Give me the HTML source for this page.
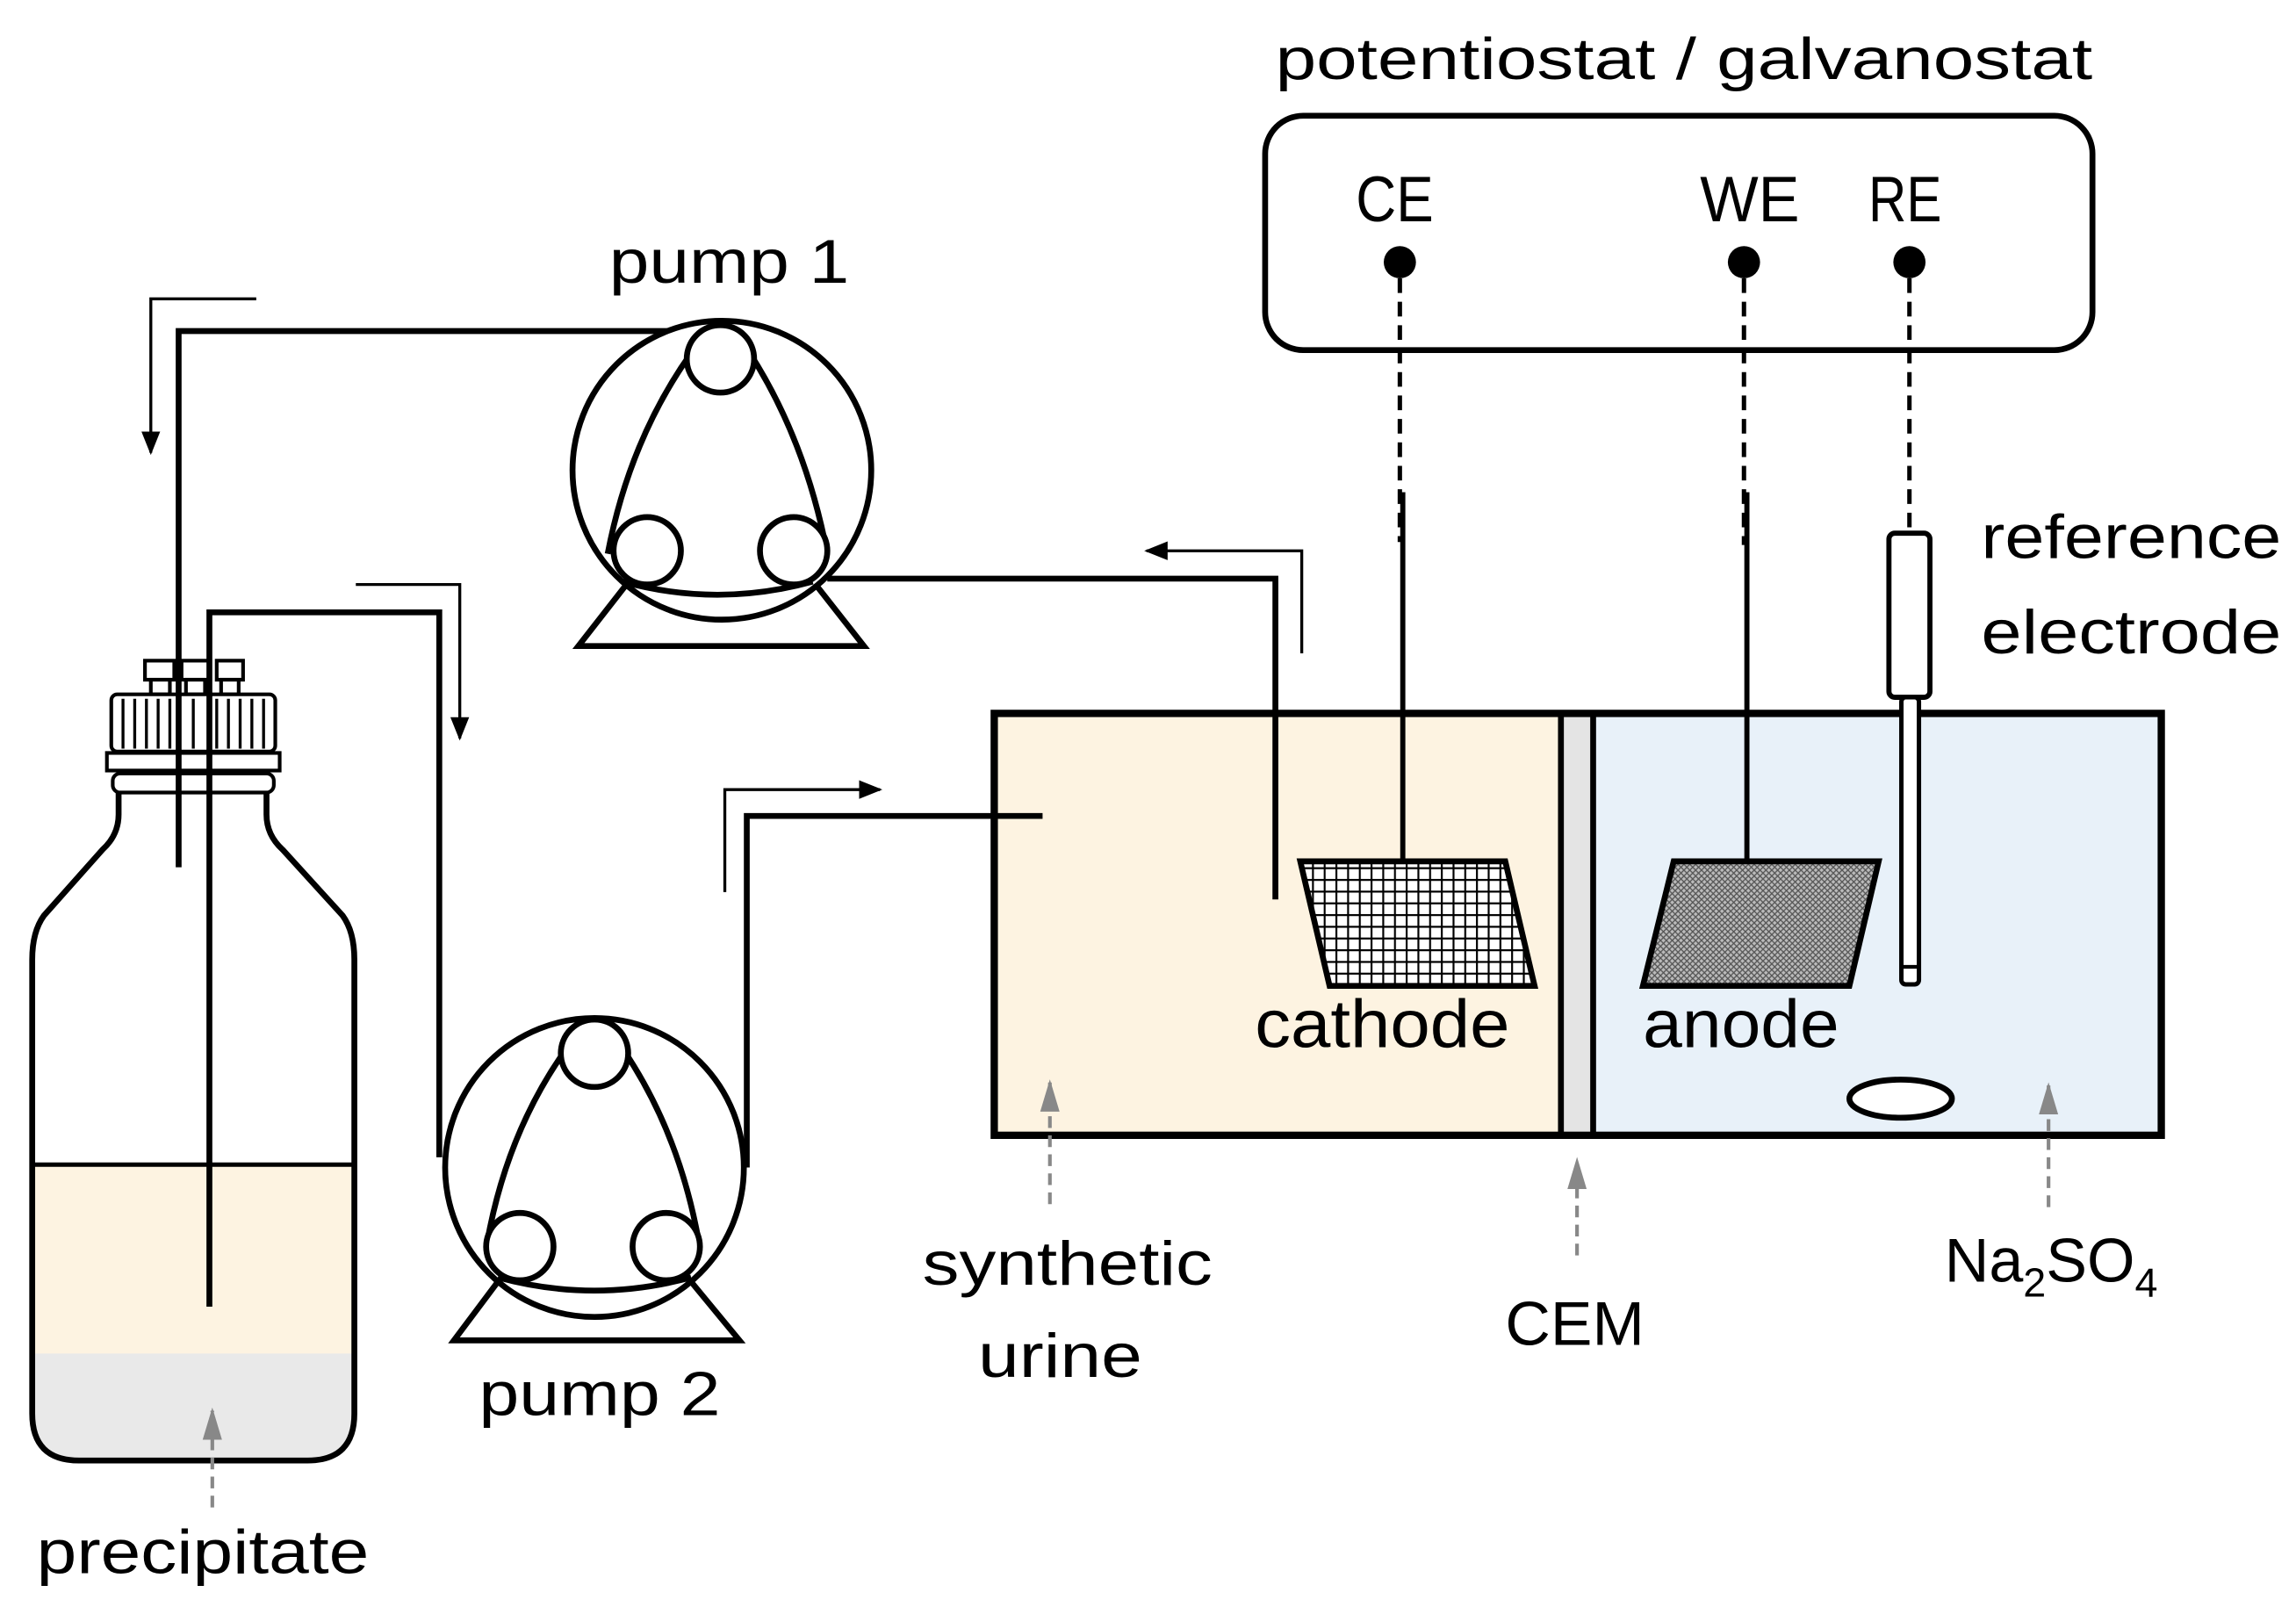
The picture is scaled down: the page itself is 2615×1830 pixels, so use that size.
<!DOCTYPE html>
<html><head><meta charset="utf-8"><style>html,body{margin:0;padding:0;background:#fff}svg{display:block}</style></head>
<body>
<svg width="2615" height="1830" viewBox="0 0 1568 1097" preserveAspectRatio="none" xmlns="http://www.w3.org/2000/svg" font-family="Liberation Sans, sans-serif">
<defs>
<marker id="ab" viewBox="0 0 10 10" refX="9" refY="5" markerWidth="16" markerHeight="16" orient="auto" markerUnits="userSpaceOnUse"><path d="M0,1 L10,5 L0,9 z" fill="#000"/></marker>
<marker id="ag" viewBox="0 0 10 10" refX="9" refY="5" markerWidth="22" markerHeight="22" orient="auto" markerUnits="userSpaceOnUse"><path d="M0,2 L10,5 L0,8 z" fill="#888"/></marker>
<pattern id="grid" width="8" height="8" patternUnits="userSpaceOnUse"><rect width="8" height="8" fill="#fff"/><path d="M0,0.5H8M0.5,0V8" stroke="#000" stroke-width="1.6"/></pattern>
<pattern id="fine" width="4" height="4" patternUnits="userSpaceOnUse"><rect width="4" height="4" fill="#bbb"/><path d="M0,0L4,4M4,0L0,4" stroke="#555" stroke-width="0.8"/></pattern>
<clipPath id="bot"><path d="M81,541 L81,556 Q81,570 70,580 L30,625 Q22,636 22,655 L22,965 Q22,997 54,997 L210,997 Q242,997 242,965 L242,655 Q242,636 234,625 L193,580 Q182,570 182,556 L182,541 Z"/></clipPath>
</defs>

<text x="871" y="54" font-size="40" textLength="558" lengthAdjust="spacingAndGlyphs">potentiostat / galvanostat</text>
<rect x="864" y="79" width="565" height="160" rx="26" fill="none" stroke="#000" stroke-width="4"/>
<text x="926" y="151" font-size="44" textLength="53" lengthAdjust="spacingAndGlyphs">CE</text>
<text x="1161" y="151" font-size="44" textLength="68" lengthAdjust="spacingAndGlyphs">WE</text>
<text x="1276" y="151" font-size="44" textLength="50" lengthAdjust="spacingAndGlyphs">RE</text>
<circle cx="956" cy="179" r="11"/><circle cx="1191" cy="179" r="11"/><circle cx="1304" cy="179" r="11"/>
<g stroke="#000" stroke-width="3" stroke-dasharray="10,6" fill="none">
<path d="M956,190V370M1191,190V372M1304,190V364"/>
</g>

<rect x="679" y="487" width="386" height="288" fill="#fdf3e1"/>
<rect x="1065" y="487" width="24" height="288" fill="#e4e4e4"/>
<rect x="1089" y="487" width="387" height="288" fill="#e8f1f9"/>
<rect x="679" y="487" width="797" height="288" fill="none" stroke="#000" stroke-width="5"/>
<path d="M1066,487V777M1088,487V777" stroke="#000" stroke-width="4"/>

<path d="M958,336V588M1193,336V588" stroke="#000" stroke-width="3.5"/>
<polygon points="888,588 1028,588 1048,673 908,673" fill="url(#grid)" stroke="#000" stroke-width="4"/>
<polygon points="1143,588 1283,588 1263,673 1122,673" fill="url(#fine)" stroke="#000" stroke-width="4"/>
<rect x="1290" y="364" width="28" height="112" rx="4" fill="#fff" stroke="#000" stroke-width="3.5"/>
<rect x="1298.5" y="476" width="12" height="196" rx="3" fill="#fff" stroke="#000" stroke-width="3"/>
<path d="M1298.5,660H1310.5" stroke="#000" stroke-width="2.5"/>
<ellipse cx="1298" cy="750" rx="35" ry="13" fill="#fff" stroke="#000" stroke-width="4"/>
<text x="1353" y="381" font-size="42" textLength="205" lengthAdjust="spacingAndGlyphs">reference</text>
<text x="1353" y="446" font-size="42" textLength="205" lengthAdjust="spacingAndGlyphs">electrode</text>
<text x="857" y="715" font-size="46" textLength="174" lengthAdjust="spacingAndGlyphs">cathode</text>
<text x="1122" y="715" font-size="46" textLength="134" lengthAdjust="spacingAndGlyphs">anode</text>

<text x="630" y="877" font-size="42" textLength="198" lengthAdjust="spacingAndGlyphs">synthetic</text>
<text x="668" y="940" font-size="42" textLength="112" lengthAdjust="spacingAndGlyphs">urine</text>
<text x="1028" y="918" font-size="42" textLength="95" lengthAdjust="spacingAndGlyphs">CEM</text>
<text x="1328" y="875" font-size="42">Na<tspan font-size="28" dy="10">2</tspan><tspan dy="-10">SO</tspan><tspan font-size="28" dy="10">4</tspan></text>
<text x="25" y="1074" font-size="42" textLength="227" lengthAdjust="spacingAndGlyphs">precipitate</text>
<text x="416" y="193" font-size="42" textLength="164" lengthAdjust="spacingAndGlyphs">pump 1</text>
<text x="327" y="966" font-size="42" textLength="165" lengthAdjust="spacingAndGlyphs">pump 2</text>

<g clip-path="url(#bot)">
<rect x="0" y="795" width="260" height="130" fill="#fdf3e1"/>
<rect x="0" y="924" width="260" height="80" fill="#e9e9e9"/>
</g>
<path d="M22,795H242" stroke="#000" stroke-width="3"/>
<path d="M81,541 L81,556 Q81,570 70,580 L30,625 Q22,636 22,655 L22,965 Q22,997 54,997 L210,997 Q242,997 242,965 L242,655 Q242,636 234,625 L193,580 Q182,570 182,556 L182,541" fill="none" stroke="#000" stroke-width="4"/>

<g stroke="#888" stroke-width="2.5" stroke-dasharray="8,5" fill="none" marker-end="url(#ag)">
<path d="M717,822V739"/><path d="M1077,857V792"/><path d="M1399,824V741"/><path d="M145,1029V963"/>
</g>

<g fill="#fff" stroke="#000" stroke-width="2.5">
<rect x="99" y="451" width="20" height="13"/><rect x="124" y="451" width="19" height="13"/><rect x="148" y="451" width="18" height="13"/>
<rect x="103" y="464" width="13" height="10"/><rect x="127" y="464" width="13" height="10"/><rect x="151" y="464" width="12" height="10"/>
<rect x="76" y="474" width="112" height="39" rx="4"/>
<rect x="73" y="514" width="118" height="12"/>
<rect x="77" y="528" width="110" height="13" rx="5"/>
</g>
<path d="M84,477V511M92,477V511M100,477V511M108,477V511M116,477V511M132,477V511M148,477V511M156,477V511M164,477V511M172,477V511M180,477V511" stroke="#000" stroke-width="2"/>

<g stroke="#000" stroke-width="4" fill="none">
<path d="M122,592V226H493"/>
<path d="M143,892V418H300V790"/>
<path d="M565,395H871V614"/>
<path d="M510,797V557H712"/>
</g>
<g stroke="#000" stroke-width="2" fill="none" marker-end="url(#ab)">
<path d="M175,204H103V309"/>
<path d="M243,399H314V504"/>
<path d="M889,446V376H783"/>
<path d="M495,609V539H601"/>
</g>

<g stroke="#000" stroke-width="4" fill="#fff">
<path d="M427,400 L395,441 H590 L557,399 Z"/>
<circle cx="493" cy="321" r="102"/>
<path d="M472,241 Q430,300 415,378 M512,241 Q550,300 565,378 M425,397 Q490,415 555,397" fill="none"/>
<circle cx="492" cy="245" r="23"/><circle cx="442" cy="376" r="23"/><circle cx="542" cy="376" r="23"/>
</g>
<g stroke="#000" stroke-width="4" fill="#fff">
<path d="M340,875 L310,915 H505 L472,875 Z"/>
<circle cx="406" cy="797" r="102"/>
<path d="M386,717 Q345,775 332,852 M426,717 Q465,775 478,852 M340,872 Q406,890 472,872" fill="none"/>
<circle cx="406" cy="719" r="23"/><circle cx="355" cy="851" r="23"/><circle cx="455" cy="851" r="23"/>
</g>
</svg>
</body></html>
